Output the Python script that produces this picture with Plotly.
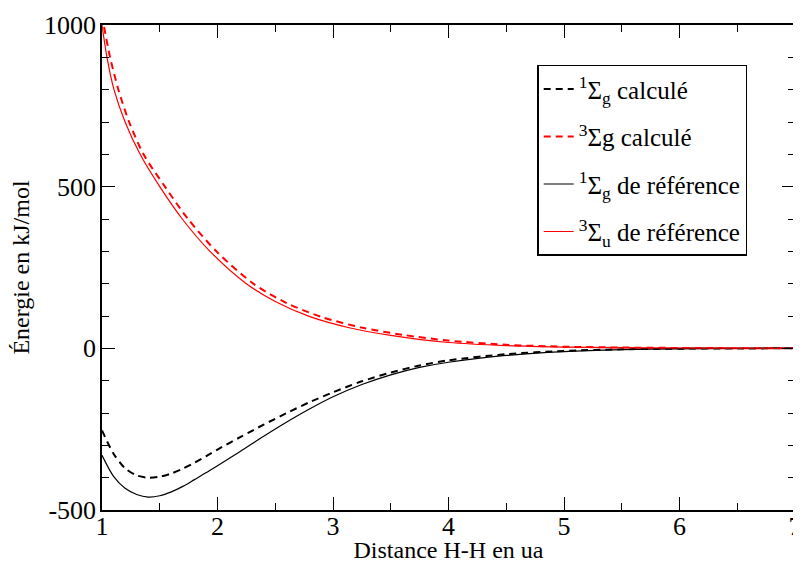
import plotly.graph_objects as go

# Distance H-H (ua) and energies (kJ/mol)
x_red_ref = [1.0, 1.043, 1.104, 1.20, 1.33, 1.50, 1.695, 1.935, 2.25, 2.5, 2.8, 3.15, 3.5, 4.0, 4.5, 5.0, 5.5, 6.0, 6.5, 7.0]
e_red_ref = [1000, 900, 800, 700, 600, 500, 400, 300, 200, 145, 98, 63, 40, 18, 8.5, 4, 2, 1, 0.5, 0]

x_red_calc = [1.0, 1.015, 1.07, 1.142, 1.235, 1.36, 1.545, 1.745, 1.99, 2.31, 2.6, 2.9, 3.25, 3.6, 4.0, 4.5, 5.0, 5.5, 6.0, 6.5, 7.0]
e_red_calc = [1030, 1000, 900, 800, 700, 600, 500, 400, 300, 200, 140, 97, 64, 42, 24, 11, 5, 2.5, 1.2, 0.5, 0]

x_blk_ref = [1.0, 1.1, 1.2, 1.3, 1.4, 1.5, 1.6, 1.7, 1.8, 1.9, 2.0, 2.2, 2.4, 2.6, 2.8, 3.0, 3.25, 3.5, 3.75, 4.0, 4.5, 5.0, 5.5, 6.0, 6.5, 7.0]
e_blk_ref = [-331, -396, -433, -452, -460, -456, -444, -427, -406, -385, -363, -318, -272, -228, -187, -150, -112, -82, -59, -43, -22, -10, -4, -1.5, -0.5, 0]

x_blk_calc = [1.0, 1.1, 1.2, 1.3, 1.4, 1.5, 1.6, 1.7, 1.8, 1.9, 2.0, 2.2, 2.4, 2.6, 2.8, 3.0, 3.25, 3.5, 3.75, 4.0, 4.5, 5.0, 5.5, 6.0, 6.5, 7.0]
e_blk_calc = [-254, -326, -371, -393, -400, -397, -387, -372, -354, -334, -313, -274, -236, -200, -166, -136, -102, -75, -53, -37, -18, -8, -3, -1, -0.3, 0]

x_tickvals = [1, 2, 3, 4, 5, 6, 7]
y_tickvals = [-500, 0, 500, 1000]
y_ticktext = ["-500", "0", "500", "1000"]

names = [
    "<sup>1</sup>Σ<sub>g</sub> calculé",
    "<sup>3</sup>Σg calculé",
    "<sup>1</sup>Σ<sub>g</sub> de référence",
    "<sup>3</sup>Σ<sub>u</sub> de référence",
]

FONT = "Liberation Serif"

fig = go.Figure()
fig.add_trace(go.Scatter(x=x_blk_calc, y=e_blk_calc, mode="lines", name=names[0], legendgroup="a",
                         line=dict(color="black", width=2, dash="7px,5px", shape="spline", smoothing=0.8)))
fig.add_trace(go.Scatter(x=x_red_calc, y=e_red_calc, mode="lines", name=names[1], legendgroup="b",
                         line=dict(color="#ff0000", width=2, dash="7px,5px", shape="spline", smoothing=0.8)))
fig.add_trace(go.Scatter(x=x_blk_ref, y=e_blk_ref, mode="lines", name=names[2], legendgroup="c",
                         line=dict(color="black", width=1.2, shape="spline", smoothing=0.8)))
fig.add_trace(go.Scatter(x=x_red_ref, y=e_red_ref, mode="lines", name=names[3], legendgroup="d",
                         line=dict(color="#ff0000", width=1.2, shape="spline", smoothing=0.8)))

axis_common = dict(
    showline=True, linecolor="black", linewidth=1.5, mirror="allticks",
    ticks="inside", ticklen=13, tickwidth=1, tickcolor="black",
    showgrid=False, zeroline=False, automargin=False,
    tickfont=dict(family=FONT, size=26, color="black"),
    ticklabeloverflow="allow",
)

fig.update_xaxes(range=[1, 7], tickmode="array", tickvals=x_tickvals,
                 minor=dict(ticks="inside", ticklen=7, dtick=0.5, tick0=1, tickwidth=1, tickcolor="black"),
                 title=dict(text="Distance H-H en ua", font=dict(family=FONT, size=24, color="black"), standoff=1),
                 ticklabelstandoff=-8,
                 **axis_common)
fig.update_yaxes(range=[-500, 1000], tickmode="array", tickvals=y_tickvals, ticktext=y_ticktext,
                 minor=dict(ticks="inside", ticklen=7, dtick=100, tick0=0, tickwidth=1, tickcolor="black"),
                 title=dict(text="Énergie en kJ/mol", font=dict(family=FONT, size=24, color="black"), standoff=14),
                 ticklabelstandoff=-1,
                 **axis_common)

# page body has an 8px margin: compensate so the plot area sits at x 102-795, y 25-510
fig.update_layout(
    width=793, height=555,
    margin=dict(l=94, r=6, t=17, b=53),
    paper_bgcolor="white", plot_bgcolor="white",
    showlegend=True,
    legend=dict(x=0.628, y=0.918, xanchor="left", yanchor="top",
                bordercolor="black", borderwidth=1.5, bgcolor="white",
                font=dict(family=FONT, size=25, color="black"),
                itemwidth=30, tracegroupgap=12),
)

fig.write_html("out.html")
